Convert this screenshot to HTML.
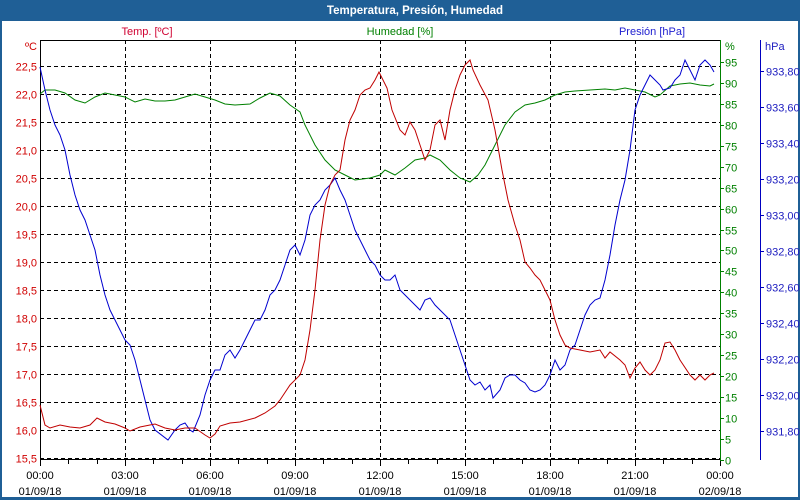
<!DOCTYPE html>
<html><head><meta charset="utf-8"><style>
html,body{margin:0;padding:0;background:#fff}
svg{display:block;font-family:"Liberation Sans",Tahoma,sans-serif;font-size:11px}
</style></head><body>
<svg id="s" width="800" height="500" xmlns="http://www.w3.org/2000/svg">
<rect x="0" y="0" width="800" height="500" fill="#1f5f96"/>
<rect x="2" y="21" width="796" height="476" fill="#fff"/>
<text x="415" y="14" fill="#fff" font-weight="bold" text-anchor="middle" font-size="11.5">Temperatura, Presión, Humedad</text>
<text x="147" y="35" fill="#d00030" text-anchor="middle">Temp. [ºC]</text>
<text x="400" y="35" fill="#008000" text-anchor="middle">Humedad [%]</text>
<text x="652" y="35" fill="#2020d0" text-anchor="middle">Presión [hPa]</text>
<text x="25" y="50" fill="#d00000">ºC</text>
<text x="725" y="50" fill="#008000">%</text>
<text x="765" y="50" fill="#2020c0">hPa</text>
<g id="grid" stroke="#000" stroke-dasharray="4,3" stroke-width="1"></g>
<g id="ax"></g>
<rect x="40.5" y="40.5" width="680" height="419" fill="none" stroke="#000"/>
<line x1="720.5" y1="40" x2="720.5" y2="460" stroke="#008000"/>
<line x1="760.5" y1="40" x2="760.5" y2="460" stroke="#0000c0"/>
<polyline id="g" fill="none" stroke="#008000" stroke-width="1"/>
<polyline id="b" fill="none" stroke="#0000d0" stroke-width="1"/>
<polyline id="r" fill="none" stroke="#c00000" stroke-width="1"/>
</svg>
<script>
const NS="http://www.w3.org/2000/svg",s=document.getElementById('s');
function el(p,t,a,txt){const e=document.createElementNS(NS,t);for(const k in a)e.setAttribute(k,a[k]);if(txt!=null)e.textContent=txt;p.appendChild(e);return e;}
const grid=document.getElementById('grid'),ax=document.getElementById('ax');
// vertical grid
const times=["00:00","03:00","06:00","09:00","12:00","15:00","18:00","21:00","00:00"];
for(let i=0;i<9;i++){const x=40+85*i;
 if(i>0&&i<8)el(grid,'line',{x1:x+.5,y1:40,x2:x+.5,y2:460});
 el(ax,'text',{x:x,y:479,'text-anchor':'middle',fill:'#000'},times[i]);
 el(ax,'text',{x:x,y:495,'text-anchor':'middle',fill:'#000'},i==8?"02/09/18":"01/09/18");}
for(let h=0;h<=24;h++){const x=Math.round(40+h*85/3)+.5;el(ax,'line',{x1:x,y1:460,x2:x,y2:h%3?464:466,stroke:'#000'});}
// temp
for(let k=0;k<=14;k++){const T=15.5+k*0.5,y=Math.round(458-k*28)+.5;
 el(grid,'line',{x1:40,y1:y,x2:720,y2:y});
 el(ax,'text',{x:37,y:y+4,'text-anchor':'end',fill:'#d00000'},T.toFixed(1).replace('.',','));}
// humidity
for(let v=0;v<=95;v+=5){const y=Math.round(460-v*4.19)+.5;
 el(ax,'line',{x1:720,y1:y,x2:724,y2:y,stroke:'#008000'});
 el(ax,'text',{x:725,y:y+4,fill:'#008000'},String(v));}
// pressure
for(let k=0;k<=10;k++){const p=931.8+k*0.2,y=Math.round(431-k*36)+.5;
 el(ax,'line',{x1:760,y1:y,x2:764,y2:y,stroke:'#0000c0'});
 el(ax,'text',{x:766,y:y+4,fill:'#2020c0'},p.toFixed(2).replace('.',','));}
const R=[40,405,45,425,50,428,60,425,70,427,80,428,90,425,97,418,105,422,115,424,125,428,130,431,140,427,150,425,155,424,165,428,175,430,185,428,195,428,205,435,210,438,215,434,220,426,230,423,240,422,255,418,265,413,275,406,280,400,290,385,300,375,305,360,310,330,315,290,320,240,325,205,330,185,335,175,340,170,345,140,350,120,355,110,360,95,365,90,370,88,375,80,379,72,382,78,387,88,392,110,400,130,405,135,410,122,415,130,420,145,425,160,430,150,435,125,440,120,445,140,450,110,455,90,460,75,465,65,470,60,473,70,480,85,488,100,495,130,502,170,508,200,515,225,520,240,525,262,530,268,535,275,540,280,545,290,550,300,555,320,560,335,565,345,570,348,580,350,590,352,600,350,605,358,610,352,620,360,625,365,630,378,635,368,640,362,645,370,650,375,655,370,660,360,665,343,670,342,675,350,680,360,690,375,695,380,700,375,705,380,710,375,714,373];
const G=[40,94,45,90,55,90,65,93,75,100,85,103,95,97,105,93,115,95,125,97,135,102,145,99,155,101,165,101,175,100,185,97,195,94,205,97,215,100,225,104,235,105,250,104,260,98,270,93,280,96,290,105,300,112,305,125,315,145,325,160,335,170,345,175,355,180,370,178,380,175,385,170,395,175,405,168,415,160,425,158,430,155,440,160,450,170,460,178,470,182,478,175,485,165,495,145,505,125,515,112,525,105,535,103,545,100,555,95,565,92,575,91,590,90,605,89,615,90,625,88,635,90,645,92,655,97,660,95,670,86,680,84,690,83,700,85,710,86,714,84];
const B=[40,67,45,90,50,110,55,125,60,135,65,150,70,175,75,195,80,210,85,220,90,235,95,250,100,275,105,295,110,310,115,320,120,330,125,340,130,345,135,360,140,380,145,400,150,420,155,430,168,440,175,430,180,425,185,423,190,430,193,432,200,415,205,395,210,380,215,370,220,370,225,355,230,350,235,358,240,350,245,340,250,330,255,320,260,320,265,310,270,295,275,290,280,280,285,265,290,250,295,245,300,255,305,240,310,215,315,205,320,200,325,190,330,185,335,178,340,190,345,200,350,215,355,230,360,240,365,250,370,260,375,265,380,275,385,280,390,280,395,275,400,290,405,295,410,300,415,305,420,310,425,300,430,298,435,305,440,310,445,315,450,320,455,335,460,350,465,365,470,380,475,385,480,382,485,390,490,385,493,398,500,390,505,378,510,375,515,375,520,380,525,383,530,390,535,392,540,390,545,385,550,375,555,360,560,370,565,365,570,350,575,345,580,330,585,315,590,305,595,300,600,298,605,280,610,255,615,225,620,200,625,180,630,150,635,110,640,95,645,85,650,75,655,80,660,85,663,90,670,88,675,80,680,75,685,60,690,70,695,80,700,65,705,60,710,65,714,72];
function pts(a){let o=[];for(let i=0;i<a.length;i+=2)o.push(a[i]+','+a[i+1]);return o.join(' ');}
document.getElementById('r').setAttribute('points',pts(R));
document.getElementById('g').setAttribute('points',pts(G));
document.getElementById('b').setAttribute('points',pts(B));
</script>
</body></html>
